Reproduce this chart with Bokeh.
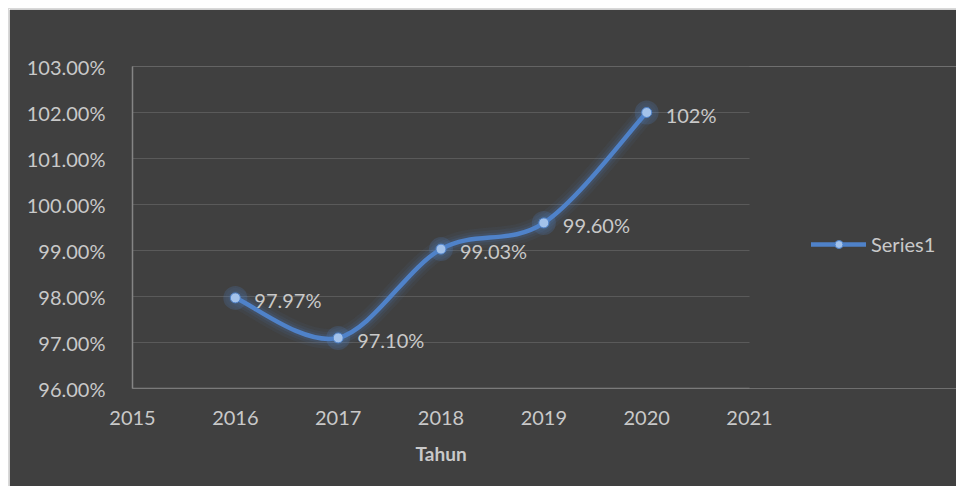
import numpy as np
from bokeh.plotting import figure
from bokeh.models import (FixedTicker, NumeralTickFormatter, Range1d, Legend,
                          LegendItem, ColumnDataSource, Title)
from bokeh.embed import file_html
from bokeh.resources import INLINE
from bokeh.core.properties import value

# ---- data ----
years = [2016, 2017, 2018, 2019, 2020]
series1 = [0.9797, 0.9710, 0.9903, 0.9960, 1.0200]
point_labels = ["97.97%", "97.10%", "99.03%", "99.60%", "102%"]
x_ticks = [2015, 2016, 2017, 2018, 2019, 2020, 2021]
y_ticks = [0.96, 0.97, 0.98, 0.99, 1.00, 1.01, 1.02, 1.03]
series_name = "Series1"
x_title = "Tahun"

BG = "#404040"
TXT = "#c9c9c9"
LINE = "#4f82c9"
MARK = "#a3c2ea"
FONT = "Lato"
AXIS = "#858585"

# plot area: 2015..2021 spans 617 px; frame continues 208 px further right
x_start, x_end_axis = x_ticks[0], x_ticks[-1]
px_per_unit = 617 / (x_end_axis - x_start)
x_end = x_end_axis + 208 / px_per_unit

p = figure(width=948, height=478, output_backend="svg", toolbar_location=None,
           x_range=Range1d(x_start, x_end), y_range=Range1d(0.96, 1.03),
           min_border_left=123, min_border_right=0, min_border_top=57,
           min_border_bottom=99)
p.margin = (8, 0, 0, 8)
p.styles = {"border-left": "1px solid #d9d9d9", "border-top": "1px solid #d9d9d9"}
p.background_fill_color = BG
p.border_fill_color = BG
p.outline_line_color = None

# axes
for ax in (p.xaxis[0], p.yaxis[0]):
    ax.major_tick_line_color = None
    ax.minor_tick_line_color = None
    ax.axis_line_color = AXIS
    ax.axis_line_width = 1.5
    ax.major_label_text_color = TXT
    ax.major_label_text_font = FONT
    ax.major_label_text_font_size = "20px"
    ax.major_label_standoff = 21
p.xaxis.major_label_standoff = 16
p.xaxis.axis_line_color = None
p.xaxis.ticker = FixedTicker(ticks=x_ticks)
p.yaxis.ticker = FixedTicker(ticks=y_ticks)
p.yaxis.formatter = NumeralTickFormatter(format="0.00%")
p.xgrid.grid_line_color = None
p.ygrid.grid_line_color = None

# x axis title, centred under the 2015..2021 span
p.add_layout(Title(text=x_title, align="left", offset=283, standoff=25,
                   text_font=FONT, text_font_style="bold", text_font_size="19px",
                   text_color=TXT), "below")

# grid lines limited to the 2015..2021 span, plus the bottom axis line
p.segment(x0=[x_start] * (len(y_ticks) - 1), x1=[x_end_axis] * (len(y_ticks) - 1),
          y0=y_ticks[1:], y1=y_ticks[1:], line_color="#5a5a5a", line_width=1.2)
p.segment(x0=[x_start], x1=[x_end_axis], y0=[y_ticks[0]], y1=[y_ticks[0]],
          line_color=AXIS, line_width=1.5)

# smooth (Catmull-Rom style) bezier segments, as Excel's smoothed line
xs = np.array(years, dtype=float)
ys = np.array(series1, dtype=float)
n = len(xs)
x0, y0, x1, y1, cx0, cy0, cx1, cy1 = [], [], [], [], [], [], [], []
for i in range(n - 1):
    im1 = max(i - 1, 0)
    ip2 = min(i + 2, n - 1)
    x0.append(xs[i]); y0.append(ys[i])
    x1.append(xs[i + 1]); y1.append(ys[i + 1])
    cx0.append(xs[i] + (xs[i + 1] - xs[im1]) / 6)
    cy0.append(ys[i] + (ys[i + 1] - ys[im1]) / 6)
    cx1.append(xs[i + 1] - (xs[ip2] - xs[i]) / 6)
    cy1.append(ys[i + 1] - (ys[ip2] - ys[i]) / 6)
bz = ColumnDataSource(dict(x0=x0, y0=y0, x1=x1, y1=y1,
                           cx0=cx0, cy0=cy0, cx1=cx1, cy1=cy1))

# glow
for w, a in [(20, 0.06), (14, 0.09), (9, 0.14)]:
    p.bezier(x0="x0", y0="y0", x1="x1", y1="y1", cx0="cx0", cy0="cy0",
             cx1="cx1", cy1="cy1", source=bz, line_color=LINE, line_width=w,
             line_alpha=a, line_cap="round")
p.scatter(years, series1, size=24, fill_color=LINE, fill_alpha=0.2, line_color=None)
main_curve = p.bezier(x0="x0", y0="y0", x1="x1", y1="y1", cx0="cx0", cy0="cy0",
                      cx1="cx1", cy1="cy1", source=bz, line_color=LINE, line_width=4.5,
                      line_cap="round")
main_pts = p.scatter(years, series1, size=10, fill_color=MARK, line_color=LINE,
                     line_width=1)

# data labels
p.text(years, series1, text=point_labels, x_offset=19, y_offset=2,
       text_baseline="middle", text_align="left", text_color=TXT,
       text_font=value(FONT), text_font_size="20px")

# legend
legend = Legend(items=[LegendItem(label=series_name, renderers=[main_curve, main_pts])],
                location=(679, 132), glyph_width=55, glyph_height=20,
                label_standoff=5, padding=0, margin=0, spacing=0,
                background_fill_alpha=0, border_line_color=None,
                label_text_color=TXT, label_text_font=FONT,
                label_text_font_size="20px")
p.add_layout(legend)

open("out.html", "w").write(file_html(p, INLINE))
